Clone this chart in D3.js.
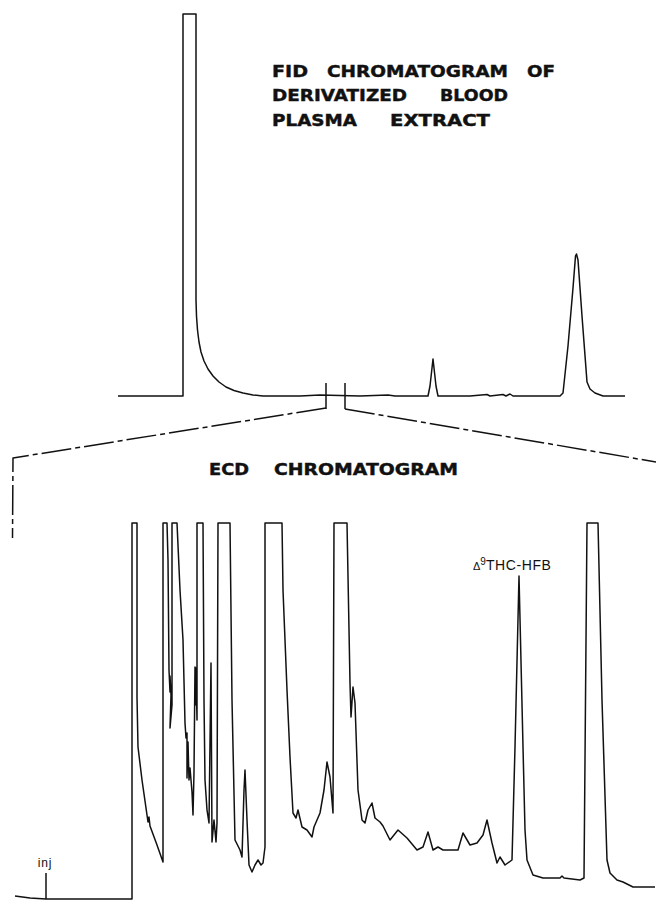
<!DOCTYPE html>
<html lang="en">
<head>
    <meta charset="UTF-8">
    <title>FID / ECD chromatograms</title>
    <style>
        body {
            margin: 0;
            background: #ffffff;
        }
        svg {
            display: block;
        }
        .trace {
            fill: none;
            stroke: #111;
            stroke-width: 1.5;
            stroke-linejoin: round;
        }
        .title {
            font-family: "DejaVu Sans", "Liberation Sans", Arial, sans-serif;
            font-weight: bold;
            font-size: 15px;
            fill: #111;
            stroke: #111;
            stroke-width: 0.4;
        }
        .label {
            font-family: "Liberation Sans", Arial, sans-serif;
            fill: #111;
        }
    </style>
</head>
<body>
    <svg id="chart" width="656" height="902"></svg>
    <script src="https://d3js.org/d3.v7.min.js"></script>
    <script>
        // FID trace: [retention (chart units), response]
        const fidTrace = [
            [0, 0], [6.5, 0], [6.5, 38.2], [7.8, 38.2], [7.8, 9.6], [7.85, 8.0], [7.95, 6.6],
            [8.1, 5.4], [8.3, 4.4], [8.6, 3.5], [9.0, 2.7], [9.5, 2.0], [10.1, 1.4],
            [10.8, 0.9], [11.6, 0.55], [12.5, 0.3], [13.5, 0.1], [14.5, 0],
            [18.2, 0], [20.2, 0.1], [24.2, 0], [27.0, 0.1], [27.7, 0], [31.0, 0],
            [31.2, 1.0], [31.5, 3.7], [31.8, 1.0], [32.0, 0], [35.2, 0], [36.9, 0.15],
            [37.2, 0], [38.5, 0.15], [38.8, 0], [39.2, 0.2], [39.5, 0], [44.2, 0],
            [44.5, 0.3], [45.0, 5.0], [45.5, 10.8], [45.75, 14.0], [45.85, 14.2],
            [46.0, 13.6], [46.4, 8.0], [46.9, 1.4], [47.2, 0.7], [47.7, 0.3], [48.5, 0],
            [50.7, 0]
        ];

        // ECD trace: [retention (chart units), response], pen clips at full scale
        const ecdTrace = [
            [0, 0.3], [1.5, 0.1], [3.1, 0], [6.5, 0], [11.7, 0],
            [11.7, 37.6], [12.2, 37.6], [12.2, 20.2], [12.3, 15.2], [12.7, 11.9],
            [13.2, 8.4], [13.3, 7.7], [13.4, 8.2], [13.5, 7.3], [14.2, 5.4], [14.8, 3.7],
            [14.8, 37.6], [15.2, 37.6], [15.3, 33.9], [15.4, 22.9], [15.5, 20.7],
            [15.5, 22.3], [15.6, 20.4], [15.5, 17.1], [15.7, 19.4],
            [15.7, 37.6], [16.2, 37.6], [16.5, 30.9], [16.8, 25.9], [17.0, 17.6],
            [17.1, 16.1], [17.2, 16.6], [17.2, 12.1], [17.3, 15.7], [17.4, 11.9],
            [17.5, 13.1], [17.7, 10.7], [17.8, 8.4], [17.9, 12.7], [18.0, 23.2],
            [18.1, 19.4], [18.1, 23.1], [18.2, 17.9],
            [18.2, 37.6], [18.8, 37.6], [18.9, 19.9], [19.0, 11.9], [19.2, 8.9],
            [19.4, 7.6], [19.6, 23.6], [19.7, 5.7], [19.9, 7.9], [20.1, 5.7], [20.2, 7.6],
            [20.3, 37.6], [21.5, 37.6], [21.7, 19.9], [22.0, 5.9], [22.3, 5.3],
            [22.5, 4.9], [22.7, 4.2], [22.9, 10.9], [23.0, 12.9], [23.2, 7.9],
            [23.4, 3.4], [23.7, 2.7], [24.0, 3.4], [24.3, 3.9], [24.6, 3.4],
            [24.8, 3.6], [25.0, 5.2],
            [25.0, 37.6], [26.7, 37.6], [26.8, 30.9], [27.2, 20.9], [27.5, 14.2],
            [27.8, 8.6], [28.1, 8.1], [28.3, 8.9], [28.7, 7.2], [29.2, 6.9],
            [29.7, 6.2], [29.9, 7.2], [30.5, 8.6], [30.9, 10.9], [31.2, 13.7],
            [31.5, 12.2], [31.8, 8.6],
            [31.9, 37.6], [33.2, 37.6], [33.5, 21.6], [33.6, 18.2], [33.8, 21.2],
            [34.0, 19.6], [34.3, 10.9], [34.7, 7.9], [35.0, 7.6], [35.3, 8.9],
            [35.7, 9.6], [36.0, 8.1], [36.5, 7.7], [36.8, 7.3], [37.5, 5.9],
            [38.3, 6.9], [39.2, 6.1], [40.2, 4.9], [40.8, 5.2], [41.3, 6.7],
            [41.8, 4.9], [42.3, 5.2], [42.8, 4.9], [44.3, 4.9], [44.8, 6.6],
            [45.5, 5.4], [46.2, 5.6], [46.8, 6.4], [47.2, 7.9], [47.7, 5.6],
            [48.2, 3.6], [48.5, 4.2], [49.0, 3.4], [49.7, 3.9], [50.0, 15.2],
            [50.4, 32.3], [50.8, 15.2], [51.0, 6.9], [51.2, 3.9], [51.8, 2.4],
            [52.8, 2.1], [54.5, 2.1], [54.7, 2.3], [54.9, 2.1], [56.5, 1.9], [56.9, 2.1],
            [57.2, 37.6], [58.3, 37.6], [58.7, 19.9], [59.2, 3.9], [59.5, 2.6],
            [60.2, 1.9], [60.8, 1.7], [61.8, 1.2], [64.0, 1.2]
        ];

        // window of the FID run that is expanded below
        const fidWindow = [20.8, 22.7];
        const injTime = 3.1;
        const thcPeak = [50.4, 32.3];

        const fidTitle = [
            ["FID", "CHROMATOGRAM", "OF"],
            ["DERIVATIZED", "BLOOD"],
            ["PLASMA", "EXTRACT"]
        ];
        const ecdTitle = ["ECD", "CHROMATOGRAM"];

        const svg = d3.select("#chart");

        const xFid = d3.scaleLinear().domain([0, 51]).range([118, 628]);
        const yFid = d3.scaleLinear().domain([0, 38.2]).range([396, 14]);
        const xEcd = d3.scaleLinear().domain([0, 64]).range([15, 655]);
        const yEcd = d3.scaleLinear().domain([0, 37.6]).range([899, 523]);

        const fidLine = d3.line().x(d => xFid(d[0])).y(d => yFid(d[1]));
        const ecdLine = d3.line().x(d => xEcd(d[0])).y(d => yEcd(d[1]));

        svg.append("path").datum(fidTrace).attr("class", "trace").attr("d", fidLine);
        svg.append("path").datum(ecdTrace).attr("class", "trace").attr("d", ecdLine)
            .attr("stroke-width", 1.4);

        // window markers on the FID baseline
        svg.selectAll(".mark")
            .data(fidWindow)
            .enter().append("line")
            .attr("class", "trace")
            .attr("x1", d => xFid(d)).attr("x2", d => xFid(d))
            .attr("y1", yFid(1.3)).attr("y2", yFid(-1.3));

        // dash-dot expansion lines
        const dashed = d3.line();
        svg.append("path")
            .attr("class", "trace")
            .attr("stroke-width", 1.3)
            .attr("stroke-dasharray", "30,4,5,4")
            .attr("d", dashed([
                [xFid(fidWindow[0]), yFid(-1.2)],
                [xEcd(-0.2), yEcd(44.1)],
                [xEcd(-0.25), yEcd(36.1)]
            ]));
        svg.append("path")
            .attr("class", "trace")
            .attr("stroke-width", 1.3)
            .attr("stroke-dasharray", "30,4,5,4")
            .attr("d", dashed([
                [xFid(fidWindow[1]), yFid(-1.3)],
                [xEcd(64.1), yEcd(43.7)]
            ]));

        // titles
        const fidWordX = [[272, 327, 527], [272, 440], [272, 390]];
        const fidWordW = [[36, 181, 28], [135, 68], [85, 100]];
        const fidBase = [77, 101, 126];
        fidTitle.forEach((row, i) => {
            row.forEach((w, j) => {
                svg.append("text")
                    .attr("class", "title")
                    .attr("x", fidWordX[i][j]).attr("y", fidBase[i])
                    .attr("textLength", fidWordW[i][j])
                    .attr("lengthAdjust", "spacingAndGlyphs")
                    .text(w);
            });
        });
        const ecdX = [209, 274];
        const ecdW = [40, 184];
        ecdTitle.forEach((w, j) => {
            svg.append("text")
                .attr("class", "title")
                .attr("x", ecdX[j]).attr("y", 475)
                .attr("font-size", 16)
                .attr("textLength", ecdW[j])
                .attr("lengthAdjust", "spacingAndGlyphs")
                .text(w);
        });

        // injection mark
        svg.append("line")
            .attr("class", "trace")
            .attr("stroke-width", 1.2)
            .attr("x1", xEcd(injTime)).attr("x2", xEcd(injTime))
            .attr("y1", yEcd(0)).attr("y2", yEcd(2.6));
        svg.append("text")
            .attr("class", "label")
            .attr("x", xEcd(injTime) - 1).attr("y", yEcd(3.2))
            .attr("text-anchor", "middle")
            .attr("font-size", 12)
            .attr("fill", "#111")
            .attr("letter-spacing", 0.8)
            .text("inj");

        // peak label
        const thc = svg.append("text")
            .attr("class", "label")
            .attr("fill", "#111")
            .attr("x", xEcd(thcPeak[0]) - 46)
            .attr("y", yEcd(thcPeak[1]) - 6);
        thc.append("tspan").attr("font-size", 11).text("Δ");
        thc.append("tspan").attr("font-size", 10).attr("dy", -5).text("9");
        thc.append("tspan").attr("font-size", 14).attr("dy", 5)
            .attr("letter-spacing", 0.6).text("THC-HFB");
    </script>
</body>
</html>
